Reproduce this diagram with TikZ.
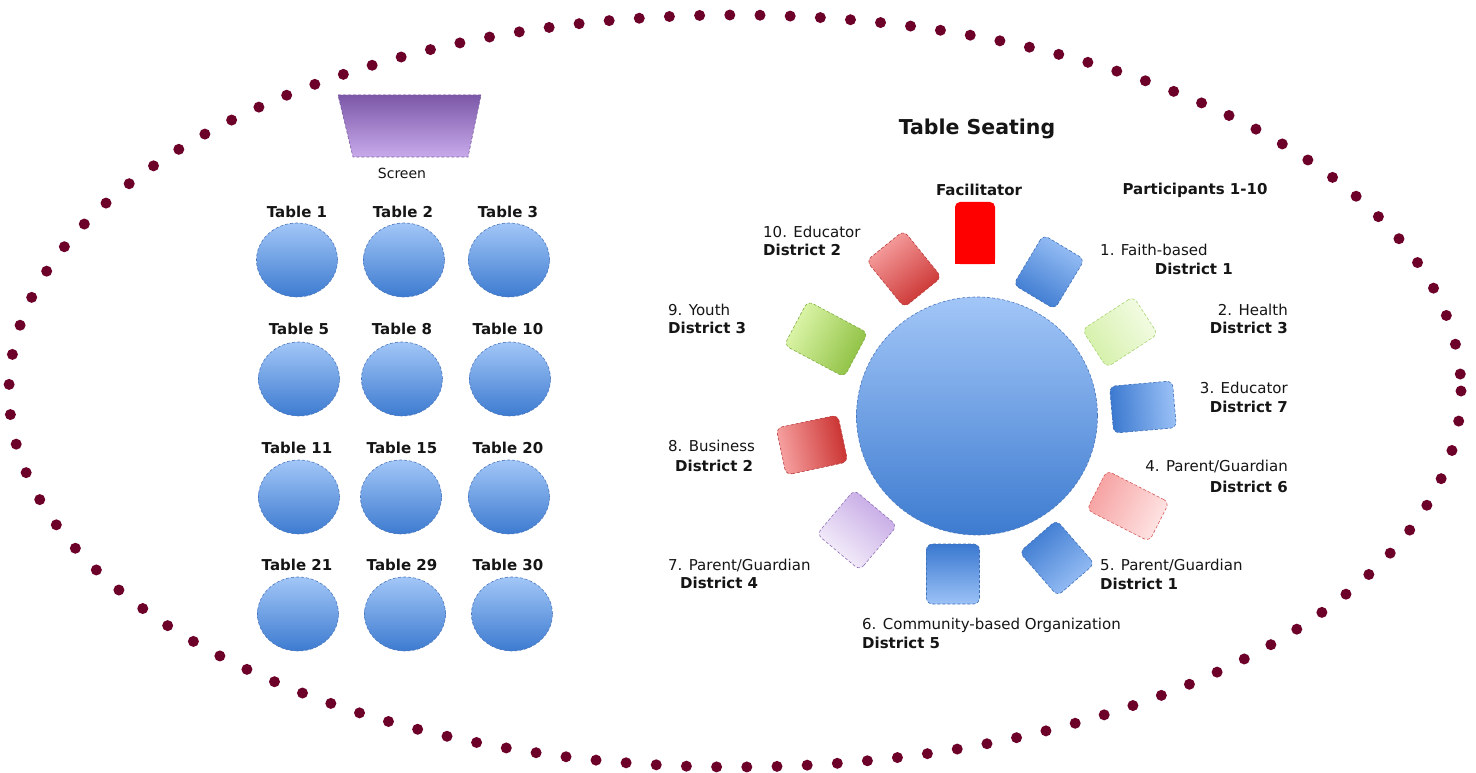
\documentclass[tikz,border=0pt]{standalone}
\usepackage{fontspec}
\setmainfont{DejaVu Sans}
\usetikzlibrary{shapes.geometric}
\definecolor{dotc}{RGB}{108,0,40}
\definecolor{tblight}{HTML}{A2C6F7}
\definecolor{tbdark}{HTML}{3D7BD0}
\definecolor{tbline}{HTML}{4A76BC}
\definecolor{scrtop}{HTML}{7C58A8}
\definecolor{scrbot}{HTML}{C8AAEB}
\definecolor{scrline}{HTML}{7A5AA0}
\definecolor{bdark}{HTML}{3A78CF}
\definecolor{blight}{HTML}{9CC2F7}
\definecolor{bline}{HTML}{3E6FB8}
\definecolor{rdark}{HTML}{C9302E}
\definecolor{rlight}{HTML}{F8A4A4}
\definecolor{rline}{HTML}{B83A3A}
\definecolor{gdark}{HTML}{8CBF3F}
\definecolor{glight}{HTML}{E0F8AE}
\definecolor{gline}{HTML}{7FAE3E}
\definecolor{lgdark}{HTML}{D4F0A8}
\definecolor{lglight}{HTML}{F4FCE6}
\definecolor{lgline}{HTML}{A9D470}
\definecolor{pkdark}{HTML}{F6A0A0}
\definecolor{pklight}{HTML}{FFE6E6}
\definecolor{pkline}{HTML}{D85A5A}
\definecolor{pudark}{HTML}{C3A5E4}
\definecolor{pulight}{HTML}{F8F4FC}
\definecolor{puline}{HTML}{8F70B8}
\definecolor{txt}{HTML}{151515}
\tikzset{
  dotring/.style={draw=dotc, line width=11pt, line cap=round, dash pattern=on 0pt off 30.2pt},
  tbl/.style={ellipse, minimum width=81pt, minimum height=74pt, inner sep=0pt,
    top color=tblight, bottom color=tbdark, draw=tbline, densely dashed, line width=0.6pt},
  bigtbl/.style={ellipse, minimum width=241pt, minimum height=238pt, inner sep=0pt,
    top color=tblight, bottom color=tbdark, draw=tbline, densely dashed, line width=0.6pt},
  seat/.style={rectangle, rounded corners=6pt, inner sep=0pt, densely dashed, line width=0.6pt},
  bseat/.style={seat, top color=bdark, bottom color=blight, draw=bline},
  rseat/.style={seat, top color=rdark, bottom color=rlight, draw=rline},
  gseat/.style={seat, top color=gdark, bottom color=glight, draw=gline},
  lgseat/.style={seat, top color=lgdark, bottom color=lglight, draw=lgline},
  pkseat/.style={seat, top color=pkdark, bottom color=pklight, draw=pkline},
  puseat/.style={seat, top color=pudark, bottom color=pulight, draw=puline},
  lbl/.style={inner sep=0pt, text=txt, font=\fontsize{15}{18}\selectfont},
  blbl/.style={inner sep=0pt, text=txt, font=\fontsize{15}{18}\selectfont\bfseries},
}
\begin{document}
\begin{tikzpicture}[x=1pt,y=-1pt]
\useasboundingbox (0,0) rectangle (1476,773);
\fill[white] (0,0) rectangle (1476,773);
% dotted room outline
\path[dotring] (735,391) ellipse [x radius=726, y radius=376];

% screen
\path[top color=scrtop, bottom color=scrbot, draw=scrline, densely dashed, line width=0.6pt]
  (338,95) -- (481,95) -- (468,157) -- (353,157) -- cycle;
\node[lbl, font=\fontsize{14}{16}\selectfont] (scrlbl) at (402,173) {Screen};

% tables grid
\node[tbl] (t1) at (297,260) {};
\node[tbl] (t2) at (404,260) {};
\node[tbl] (t3) at (509,260) {};
\node[tbl] (t5) at (299,379) {};
\node[tbl] (t8) at (402,379) {};
\node[tbl] (t10) at (510,379) {};
\node[tbl] (t11) at (299,497) {};
\node[tbl] (t15) at (401,497) {};
\node[tbl] (t20) at (509,497) {};
\node[tbl] (t21) at (298,614) {};
\node[tbl] (t29) at (405,614) {};
\node[tbl] (t30) at (512,614) {};
\node[blbl] (l1) at (297,212) {Table 1};
\node[blbl] (l2) at (403,212) {Table 2};
\node[blbl] (l3) at (508,212) {Table 3};
\node[blbl] (l5) at (299,329) {Table 5};
\node[blbl] (l8) at (402,329) {Table 8};
\node[blbl] (l10) at (508,329) {Table 10};
\node[blbl] (l11) at (297,448) {Table 11};
\node[blbl] (l15) at (402,448) {Table 15};
\node[blbl] (l20) at (508,448) {Table 20};
\node[blbl] (l21) at (297,565) {Table 21};
\node[blbl] (l29) at (402,565) {Table 29};
\node[blbl] (l30) at (508,565) {Table 30};

% table seating
\node[blbl, font=\fontsize{20.5}{24}\selectfont\bfseries] (title) at (977,129) {Table Seating};
\node[bigtbl] (big) at (977,416) {};

\fill[red, rounded corners=5pt] (955,202) rectangle (995,264);
\fill[red] (955,230) rectangle (995,264);
\node[inner sep=0pt, minimum width=40pt, minimum height=62pt] (fac) at (975,233) {};
\node[bseat, minimum width=58pt, minimum height=48pt, rotate=59, shading angle=149] (p1) at (1049,272) {};
\node[lgseat, minimum width=61pt, minimum height=45pt, rotate=33, shading angle=123] (p2) at (1120,332) {};
\node[bseat, minimum width=63pt, minimum height=47pt, rotate=5, shading angle=95] (p3) at (1143,407) {};
\node[pkseat, minimum width=70pt, minimum height=44pt, rotate=-27, shading angle=63] (p4) at (1128,506) {};
\node[bseat, minimum width=58pt, minimum height=49pt, rotate=-49, shading angle=41] (p5) at (1057,558) {};
\node[bseat, minimum width=60pt, minimum height=53pt, rotate=-90, shading angle=0] (p6) at (953,574) {};
\node[puseat, minimum width=58pt, minimum height=56pt, rotate=-130, shading angle=-40] (p7) at (857,530) {};
\node[rseat, minimum width=63pt, minimum height=48pt, rotate=-168, shading angle=-78] (p8) at (812,445) {};
\node[gseat, minimum width=68pt, minimum height=50pt, rotate=152, shading angle=242] (p9) at (826,339) {};
\node[rseat, minimum width=60pt, minimum height=48pt, rotate=129, shading angle=219] (p10) at (904,269) {};

\node[blbl] (facl) at (979,190) {Facilitator};
\node[blbl] (partl) at (1195,190) {Participants 1-10};

\node[lbl, anchor=west] (a10) at (763,232) {10. Educator};
\node[blbl, anchor=west] (b10) at (763,250) {District 2};
\node[lbl, anchor=west] (a1) at (1100,250) {1. Faith-based};
\node[blbl, anchor=east] (b1) at (1233,269) {District 1};
\node[lbl, anchor=east] (a2) at (1288,310) {2. Health};
\node[blbl, anchor=east] (b2) at (1288,328) {District 3};
\node[lbl, anchor=east] (a3) at (1288,388) {3. Educator};
\node[blbl, anchor=east] (b3) at (1288,407) {District 7};
\node[lbl, anchor=east] (a4) at (1288,466) {4. Parent/Guardian};
\node[blbl, anchor=east] (b4) at (1288,487) {District 6};
\node[lbl, anchor=west] (a5) at (1100,565) {5. Parent/Guardian};
\node[blbl, anchor=west] (b5) at (1100,584) {District 1};
\node[lbl, anchor=west] (a6) at (862,625) {6. Community-based Organization};
\node[blbl, anchor=west] (b6) at (862,643) {District 5};
\node[lbl, anchor=west] (a7) at (668,565) {7. Parent/Guardian};
\node[blbl, anchor=west] (b7) at (680,583) {District 4};
\node[lbl, anchor=west] (a8) at (668,446) {8. Business};
\node[blbl, anchor=west] (b8) at (675,466) {District 2};
\node[lbl, anchor=west] (a9) at (668,310) {9. Youth};
\node[blbl, anchor=west] (b9) at (668,328) {District 3};
\end{tikzpicture}
\end{document}
